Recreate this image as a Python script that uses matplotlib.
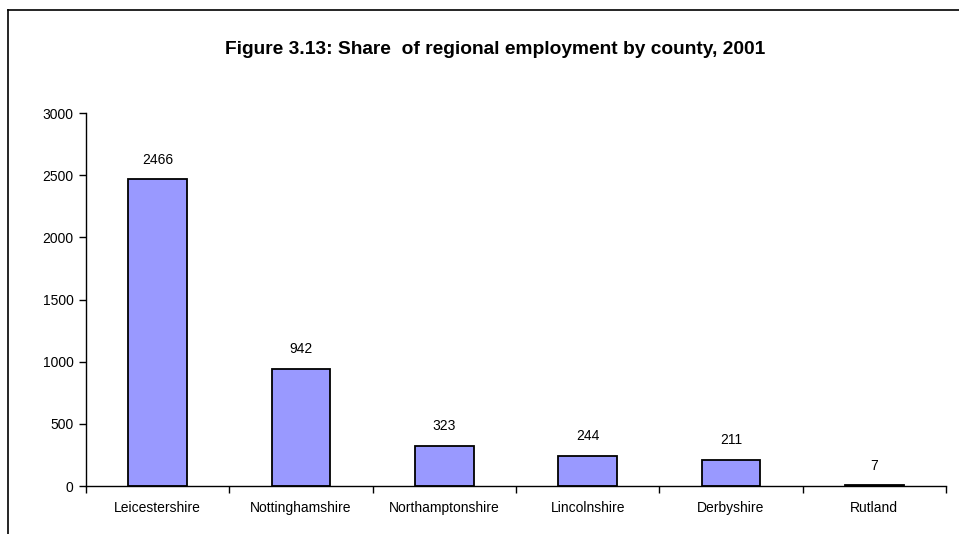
import numpy as np
import matplotlib
matplotlib.use("Agg")
import matplotlib.pyplot as plt
from matplotlib.lines import Line2D
from matplotlib import font_manager

counties = ["Leicestershire", "Nottinghamshire", "Northamptonshire",
            "Lincolnshire", "Derbyshire", "Rutland"]
valores = [2466, 942, 323, 244, 211, 7]
yticks = [0, 500, 1000, 1500, 2000, 2500, 3000]

nombres = {f.name for f in font_manager.fontManager.ttflist}
fuente_titulo = "Liberation Sans Narrow" if "Liberation Sans Narrow" in nombres else "Liberation Sans"
plt.rcParams['font.family'] = ['Liberation Sans', 'DejaVu Sans']

fig = plt.figure(figsize=(9.59, 5.34), dpi=100)
ax = fig.add_axes([86 / 959, 1 - 486 / 534, 860 / 959, 373 / 534])

x = np.arange(len(counties))
barras = ax.bar(x, valores, width=0.41, color='#9999FF', edgecolor='black', linewidth=1.3)

for xi, v in zip(x, valores):
    ax.annotate(str(v), (xi, v), xytext=(0, 9), textcoords='offset points',
                ha='center', va='bottom', fontsize=10)

ax.set_xlim(-0.5, len(counties) - 0.5)
ax.set_ylim(0, 3000)
ax.set_yticks(yticks)
ax.set_xticks(x)
ax.set_xticklabels(counties, fontsize=10)
ax.tick_params(axis='x', length=0, pad=11)
ax.set_xticks(np.arange(len(counties) + 1) - 0.5, minor=True)
ax.tick_params(axis='x', which='minor', length=5, width=1, direction='out')
ax.tick_params(axis='y', length=5, width=1, direction='out', labelsize=10, pad=4)
ax.spines['top'].set_visible(False)
ax.spines['right'].set_visible(False)
ax.spines['left'].set_linewidth(1)
ax.spines['bottom'].set_linewidth(1)

fig.text(495 / 959, 1 - 49 / 534, "Figure 3.13: Share  of regional employment by county, 2001",
         ha='center', va='center', fontsize=13.8, fontweight='bold', family=fuente_titulo)

# marco del area del grafico
fig.add_artist(Line2D([8 / 959, 8 / 959], [0, 1 - 10 / 534], transform=fig.transFigure,
                      color='black', linewidth=1.2))
fig.add_artist(Line2D([8 / 959, 1], [1 - 10 / 534, 1 - 10 / 534], transform=fig.transFigure,
                      color='black', linewidth=1.2))

fig.savefig("out.png", dpi=100)
